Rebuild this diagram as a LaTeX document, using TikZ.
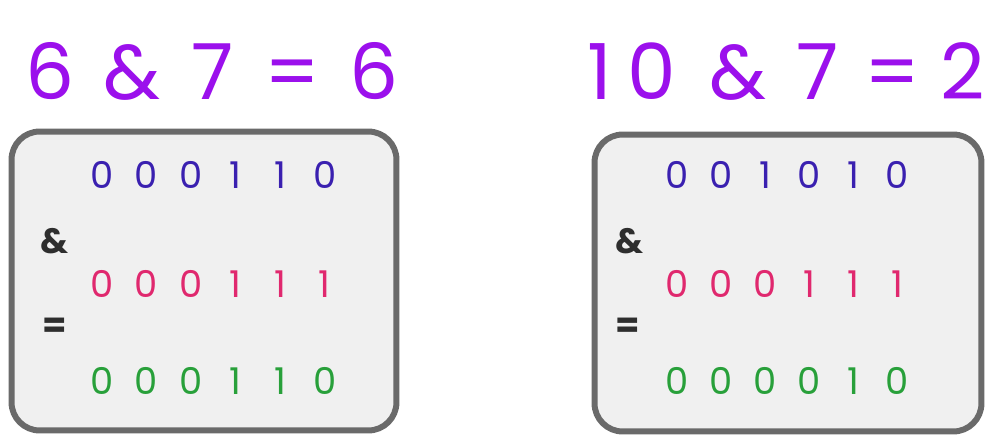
\documentclass[tikz,border=0pt]{standalone}
\usepackage{fontspec}
\setmainfont{Poppins}
\usetikzlibrary{positioning}
\definecolor{titlepurple}{HTML}{9B10EC}
\definecolor{bitblue}{HTML}{3A20B0}
\definecolor{bitpink}{HTML}{E0286E}
\definecolor{bitgreen}{HTML}{28A03A}
\definecolor{opblack}{HTML}{2E2E2E}
\definecolor{boxgray}{HTML}{6A6A6A}
\definecolor{boxfill}{HTML}{F0F0F0}
\tikzset{
  titlechar/.style={
    font=\fontsize{44}{44}\selectfont, text=titlepurple,
    inner sep=0pt, anchor=base
  },
  bitchar/.style={
    font=\fontsize{21}{21}\selectfont, text=#1,
    inner sep=0pt, anchor=base
  },
  bitchar/.default=bitblue,
  opchar/.style={
    font=\fontsize{20}{20}\selectfont\bfseries, text=opblack,
    inner sep=0pt
  },
  calcbox/.style={
    rectangle, draw=boxgray, fill=boxfill, line width=3.4pt,
    rounded corners=16pt, inner sep=0pt
  },
}
\begin{document}
\begin{tikzpicture}[x=0.02cm, y=-0.02cm]
  \useasboundingbox (0,0) rectangle (1002,437);

  % ── left: 6 & 7 = 6 ──
  \foreach \ch/\x [count=\i] in {6/50, \&/132, 7/213, =/292, 6/374}
    \node[titlechar] (lt\i) at (\x,99) {\ch};
  \node[calcbox, minimum width=7.7cm, minimum height=5.98cm] (lbox) at (204,281) {};
  \foreach \b [count=\i] in {0,0,0,1,1,0}
    \node[bitchar=bitblue] (la\i) at (57+\i*44.6,188) {\b};
  \node[opchar] (land) at (55,241) {\&};
  \foreach \b [count=\i] in {0,0,0,1,1,1}
    \node[bitchar=bitpink] (lb\i) at (57+\i*44.6,297) {\b};
  \node[opchar] (leq) at (55,328) {=};
  \foreach \b [count=\i] in {0,0,0,1,1,0}
    \node[bitchar=bitgreen] (lr\i) at (57+\i*44.6,394) {\b};

  % ── right: 10 & 7 = 2 ──
  \foreach \ch/\x [count=\i] in {1/600, 0/652, \&/738, 7/818, =/892, 2/963}
    \node[titlechar] (rt\i) at (\x,99) {\ch};
  \node[calcbox, minimum width=7.74cm, minimum height=5.94cm] (rbox) at (788,283) {};
  \foreach \b [count=\i] in {0,0,1,0,1,0}
    \node[bitchar=bitblue] (ra\i) at (633+\i*44,188) {\b};
  \node[opchar] (rand) at (630,241) {\&};
  \foreach \b [count=\i] in {0,0,0,1,1,1}
    \node[bitchar=bitpink] (rb\i) at (633+\i*44,297) {\b};
  \node[opchar] (req) at (628,328) {=};
  \foreach \b [count=\i] in {0,0,0,0,1,0}
    \node[bitchar=bitgreen] (rr\i) at (633+\i*44,394) {\b};
\end{tikzpicture}
\end{document}
